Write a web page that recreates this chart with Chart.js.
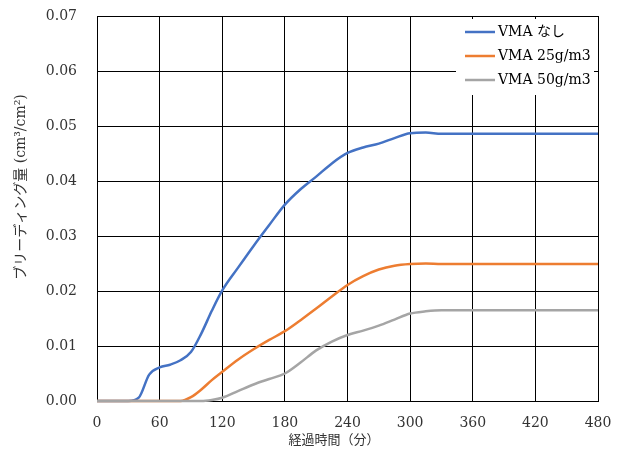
<!DOCTYPE html>
<html>
<head>
<meta charset="utf-8">
<script src="https://cdn.jsdelivr.net/npm/chart.js@4/dist/chart.umd.min.js"></script>
<style>
  html, body { margin: 0; padding: 0; background: #fff; }
  #wrap { width: 621px; height: 455px; }
</style>
</head>
<body>
<div id="wrap"><canvas id="bleedingChart"></canvas></div>
<script>
// elapsed time (min) of each reading
const times = [0, 10, 20, 30, 40, 50, 60, 70, 80, 90, 100, 110, 120, 135, 150, 165, 180, 195, 210, 225, 240, 255, 270, 285, 300, 315, 330, 360, 420, 480];
// bleeding amount (cm3/cm2)
const vmaNone = [0, 0, 0, 0, 0.0006, 0.0048, 0.0061, 0.0066, 0.0074, 0.0089, 0.0123, 0.0164, 0.0201, 0.0242, 0.0282, 0.0320, 0.0357, 0.0385, 0.0408, 0.0432, 0.0451, 0.0461, 0.0468, 0.0478, 0.0487, 0.0488, 0.0486, 0.0486, 0.0486, 0.0486];
const vma25 = [0, 0, 0, 0, 0, 0, 0, 0, 0, 0.0007, 0.0021, 0.0038, 0.0053, 0.0075, 0.0094, 0.0111, 0.0127, 0.0147, 0.0168, 0.0190, 0.0211, 0.0227, 0.0239, 0.0246, 0.0249, 0.0250, 0.0249, 0.0249, 0.0249, 0.0249];
const vma50 = [0, 0, 0, 0, 0, 0, 0, 0, 0, 0, 0, 0.0002, 0.0006, 0.0018, 0.0030, 0.0040, 0.0050, 0.0070, 0.0092, 0.0108, 0.0120, 0.0128, 0.0137, 0.0148, 0.0159, 0.0163, 0.0165, 0.0165, 0.0165, 0.0165];

const seriesLabels = ['VMA なし', 'VMA 25g/m3', 'VMA 50g/m3'];
const xTicks = [0, 60, 120, 180, 240, 300, 360, 420, 480];
const yTicks = [0, 0.01, 0.02, 0.03, 0.04, 0.05, 0.06, 0.07];
const xTitle = '経過時間（分）';
const yTitle = 'ブリーディング量 (cm³/cm²)';

const serif = "'DejaVu Serif', 'Noto Sans CJK JP', serif";

function toPoints(values) {
  return values.map((v, i) => ({ x: times[i], y: v }));
}

// legend sits inside the plot, top right, over a white box
const insideLegend = {
  id: 'insideLegend',
  afterDraw(chart) {
    const ctx = chart.ctx;
    const area = chart.chartArea;
    const left = area.right - 142;
    ctx.save();
    ctx.fillStyle = '#fff';
    ctx.fillRect(left, area.top + 3, 138, 76);
    ctx.font = '14px ' + serif;
    ctx.textBaseline = 'middle';
    chart.data.datasets.forEach((ds, i) => {
      const y = area.top + 16 + i * 24;
      ctx.strokeStyle = ds.borderColor;
      ctx.lineWidth = 2.5;
      ctx.beginPath();
      ctx.moveTo(left + 9, y);
      ctx.lineTo(left + 39, y);
      ctx.stroke();
      ctx.fillStyle = '#000';
      ctx.fillText(ds.label, left + 42, y);
    });
    ctx.restore();
  }
};

// axis titles, placed like the original sheet
const axisTitles = {
  id: 'axisTitles',
  afterDraw(chart) {
    const ctx = chart.ctx;
    ctx.save();
    ctx.fillStyle = '#333';
    ctx.textAlign = 'center';
    ctx.textBaseline = 'middle';
    ctx.font = '13px ' + serif;
    ctx.fillText(xTitle, 334, 441);
    ctx.translate(21, 187);
    ctx.rotate(-Math.PI / 2);
    ctx.font = '14px ' + serif;
    ctx.fillText(yTitle, 0, 0);
    ctx.restore();
  }
};

const ctx = document.getElementById('bleedingChart').getContext('2d');
new Chart(ctx, {
  type: 'line',
  data: {
    datasets: [
      { label: seriesLabels[0], data: toPoints(vmaNone), borderColor: '#4472C4', order: 2 },
      { label: seriesLabels[1], data: toPoints(vma25), borderColor: '#ED7D31', order: 1 },
      { label: seriesLabels[2], data: toPoints(vma50), borderColor: '#A5A5A5', order: 0 }
    ].map(ds => Object.assign(ds, {
      borderWidth: 2.5,
      pointRadius: 0,
      fill: false,
      cubicInterpolationMode: 'monotone',
      clip: 5
    }))
  },
  options: {
    responsive: true,
    maintainAspectRatio: false,
    animation: false,
    layout: { padding: { left: 0, top: 16, right: 23, bottom: 0 } },
    plugins: {
      legend: { display: false },
      tooltip: { enabled: false }
    },
    scales: {
      x: {
        type: 'linear',
        min: 0,
        max: 480,
        afterBuildTicks: s => { s.ticks = xTicks.map(v => ({ value: v })); },
        afterFit: s => { s.height = 54; s.paddingLeft = 0; s.paddingRight = 0; },
        grid: { color: '#000', lineWidth: 1, drawTicks: false },
        border: { color: '#000', width: 1 },
        ticks: { color: '#333', font: { family: serif, size: 14 }, padding: 14, maxRotation: 0 }
      },
      y: {
        type: 'linear',
        min: 0,
        max: 0.07,
        afterBuildTicks: s => { s.ticks = yTicks.map(v => ({ value: v })); },
        afterFit: s => { s.width = 97; s.paddingTop = 0; s.paddingBottom = 0; },
        grid: { color: '#000', lineWidth: 1, drawTicks: false },
        border: { color: '#000', width: 1 },
        ticks: {
          color: '#333',
          font: { family: serif, size: 14 },
          padding: 20,
          callback: v => v.toFixed(2)
        }
      }
    }
  },
  plugins: [insideLegend, axisTitles]
});
</script>
</body>
</html>
